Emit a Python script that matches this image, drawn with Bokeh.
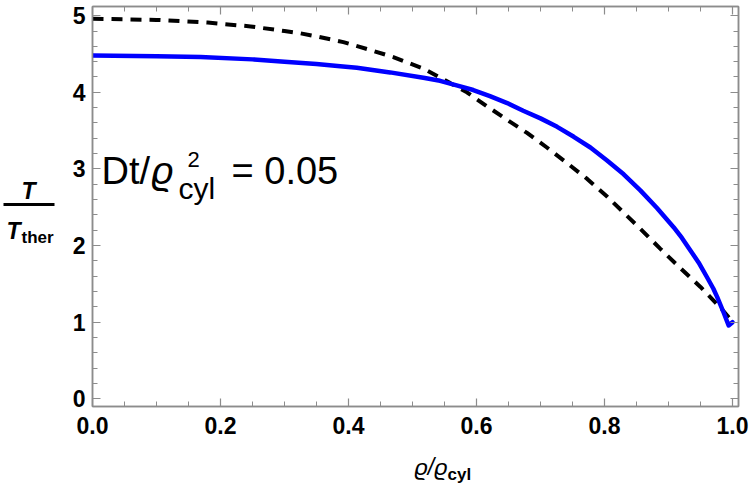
from bokeh.plotting import figure
from bokeh.models import (Range1d, LinearAxis, SingleIntervalTicker, NumeralTickFormatter,
                          Label, BoxAnnotation)
from bokeh.layouts import row, column
from bokeh.embed import file_html
from bokeh.resources import INLINE

# --- data ---
rho_blue = [0.0, 0.1, 0.169, 0.25, 0.3, 0.35, 0.387, 0.413, 0.465, 0.517, 0.543, 0.569,
            0.595, 0.621, 0.648, 0.673, 0.700, 0.726, 0.752, 0.778, 0.804, 0.830, 0.856,
            0.882, 0.908, 0.921, 0.934, 0.947, 0.960, 0.970, 0.976, 0.986, 0.994, 1.0]
T_blue = [4.48, 4.47, 4.46, 4.43, 4.40, 4.37, 4.34, 4.32, 4.26, 4.19, 4.15, 4.09,
          4.03, 3.95, 3.86, 3.76, 3.66, 3.55, 3.42, 3.28, 3.11, 2.93, 2.72,
          2.49, 2.24, 2.10, 1.94, 1.78, 1.59, 1.44, 1.33, 1.13, 0.957, 1.0]

rho_dash = [0.0, 0.1, 0.18, 0.247, 0.3, 0.325, 0.35, 0.392, 0.439, 0.470, 0.517, 0.559,
            0.585, 0.616, 0.648, 0.679, 0.710, 0.741, 0.773, 0.804, 0.830, 0.856, 0.887,
            0.918, 0.950, 0.981, 1.0]
T_dash = [4.96, 4.945, 4.91, 4.86, 4.80, 4.77, 4.73, 4.655, 4.54, 4.46, 4.31, 4.12,
          4.00, 3.82, 3.64, 3.47, 3.28, 3.08, 2.87, 2.64, 2.43, 2.22, 1.96,
          1.71, 1.46, 1.19, 1.01]

x_ticks_interval = 0.2
y_ticks_interval = 1

FRAME = "#8c8c8c"

LEFT_W = 60
MAIN_W = 750 - LEFT_W
MAIN_H = 448

p = figure(width=MAIN_W, height=MAIN_H, output_backend="svg", toolbar_location=None,
           x_range=Range1d(0.0, 1.0094), y_range=Range1d(-0.1, 5.12),
           x_axis_location=None, y_axis_location=None,
           min_border_left=32, min_border_right=12, min_border_top=6, min_border_bottom=42)
p.background_fill_color = "white"
p.border_fill_color = "white"
p.outline_line_color = FRAME
p.outline_line_width = 1.5
p.grid.visible = False

def make_axis(ticker, show_labels):
    ax = LinearAxis(ticker=ticker)
    ax.axis_line_color = FRAME
    ax.axis_line_width = 1.5
    ax.major_tick_line_color = FRAME
    ax.minor_tick_line_color = FRAME
    ax.major_tick_line_width = 1.2
    ax.minor_tick_line_width = 1.0
    ax.major_tick_in = 8
    ax.major_tick_out = 0
    ax.minor_tick_in = 5
    ax.minor_tick_out = 0
    ax.major_label_text_font = "Liberation Sans"
    ax.major_label_text_font_style = "bold"
    ax.major_label_text_font_size = "23px"
    ax.major_label_text_color = "black"
    if not show_labels:
        ax.major_label_text_alpha = 0
        ax.major_label_text_font_size = "1px"
    return ax

xb = make_axis(SingleIntervalTicker(interval=x_ticks_interval, num_minor_ticks=4), True)
xb.formatter = NumeralTickFormatter(format="0.0")
xb.major_label_standoff = 10
p.add_layout(xb, "below")
xa = make_axis(SingleIntervalTicker(interval=x_ticks_interval, num_minor_ticks=4), False)
p.add_layout(xa, "above")
yl = make_axis(SingleIntervalTicker(interval=y_ticks_interval, num_minor_ticks=5), True)
yl.major_label_standoff = 7
p.add_layout(yl, "left")
yr = make_axis(SingleIntervalTicker(interval=y_ticks_interval, num_minor_ticks=5), False)
p.add_layout(yr, "right")

p.line(rho_dash, T_dash, line_color="black", line_width=4, line_dash="11 8")
p.line(rho_blue, T_blue, line_color="#0000ff", line_width=4.5, line_join="round", line_cap="round")


def lab(fig, ox, oy_bottom, cx, cy, text, size, style="normal", align="left",
        font="Liberation Sans"):
    # cx, cy: page pixels of text baseline; ox: page x of frame left; oy_bottom: page y of frame bottom
    fix = 0.45 * size
    fig.add_layout(Label(x=cx - ox, y=oy_bottom - cy + fix, x_units="screen", y_units="screen",
                         text=text, text_font=font, text_font_size=f"{size}px",
                         text_font_style=style, text_color="black", text_align=align,
                         text_baseline="alphabetic"))

# annotation Dt/ϱ²_cyl = 0.05 (inside main frame; frame left 92, bottom 406)
lab(p, 92, 406, 101, 188, "Dt/", 38)
lab(p, 92, 406, 151, 188, "\u03f1", 38, "italic")
lab(p, 92, 406, 187, 169, "2", 22)
lab(p, 92, 406, 178, 201.5, "cyl", 30)
lab(p, 92, 406, 231, 188, "= 0.05", 38)


def blank(w, h):
    f = figure(width=w, height=h, output_backend="svg", toolbar_location=None,
               x_range=Range1d(0, 1), y_range=Range1d(0, 1),
               x_axis_location=None, y_axis_location=None,
               min_border_left=0, min_border_right=0, min_border_top=0, min_border_bottom=0)
    f.grid.visible = False
    f.outline_line_color = None
    f.background_fill_color = "white"
    f.border_fill_color = "white"
    return f

# y-axis label: T / T_ther (left strip, page x 0..60, y 0..488)
left = blank(LEFT_W, 488)
lab(left, 0, 488, 28, 201, "T", 23, "bold italic", "center")
lab(left, 0, 488, 6, 241, "T", 23, "bold italic")
lab(left, 0, 488, 21, 245, "ther", 17, "bold")
left.add_layout(BoxAnnotation(left=3, right=54, bottom=488 - 205.5, top=488 - 202.5,
                              left_units="screen", right_units="screen",
                              bottom_units="screen", top_units="screen",
                              fill_color="black", fill_alpha=1, line_color=None, line_alpha=0))

# x-axis label: ϱ/ϱ_cyl (bottom strip, page x 60..750, y 448..488)
bottom = blank(MAIN_W, 488 - MAIN_H)
lab(bottom, LEFT_W, 488, 382, 477, "\u03f1/\u03f1", 23, "italic")
lab(bottom, LEFT_W, 488, 415, 482, "cyl", 17, "bold")

layout = row(left, column(p, bottom, spacing=0), spacing=0)

open("out.html", "w").write(file_html(layout, INLINE))
